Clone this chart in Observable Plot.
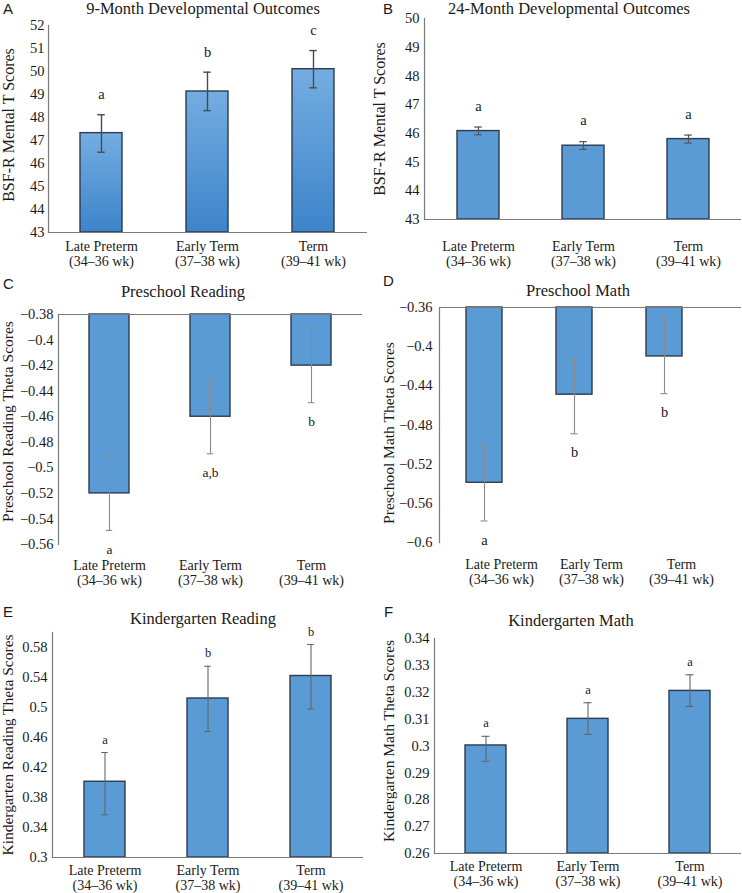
<!DOCTYPE html>
<html>
<head>
<meta charset="utf-8">
<script src="https://cdn.jsdelivr.net/npm/d3@7"></script>
<script src="https://cdn.jsdelivr.net/npm/@observablehq/plot@0.6"></script>
<style>
  body { margin: 0; background: #fff; }
  #root { position: relative; width: 742px; height: 893px; background: #fff; overflow: hidden; }
  #root svg { position: absolute; }
  .ttl { position: absolute; font-family: "Liberation Serif", serif; font-size: 16.5px; color: #1a1a1a; line-height: 1; white-space: nowrap; transform: translate(-50%, -50%); }
  .lt { position: absolute; font-family: "Liberation Sans", Arial, sans-serif; font-size: 15px; color: #1a1a1a; line-height: 1; }
</style>
</head>
<body>
<div id="root"></div>
<script>
// ---- data ----
const categories = ["Late Preterm", "Early Term", "Term"];
const weeks = ["(34–36 wk)", "(37–38 wk)", "(39–41 wk)"];

const month9Values = [47.32, 49.13, 50.10];
const month9Low = [46.49, 48.30, 49.29];
const month9High = [48.12, 49.97, 50.91];
const month9Letters = ["a", "b", "c"];
const month9Ticks = [43, 44, 45, 46, 47, 48, 49, 50, 51, 52];

const month24Values = [46.08, 45.57, 45.80];
const month24Low = [45.95, 45.44, 45.66];
const month24High = [46.22, 45.71, 45.94];
const month24Letters = ["a", "a", "a"];
const month24Ticks = [43, 44, 45, 46, 47, 48, 49, 50];

const preReadValues = [-0.520, -0.460, -0.420];
const preReadLow = [-0.549, -0.489, -0.449];
const preReadHigh = [-0.491, -0.431, -0.391];
const preReadLetters = ["a", "a,b", "b"];
const preReadTicks = [-0.38, -0.40, -0.42, -0.44, -0.46, -0.48, -0.50, -0.52, -0.54, -0.56];

const preMathValues = [-0.539, -0.449, -0.410];
const preMathLow = [-0.578, -0.489, -0.448];
const preMathHigh = [-0.501, -0.411, -0.371];
const preMathLetters = ["a", "b", "b"];
const preMathTicks = [-0.36, -0.40, -0.44, -0.48, -0.52, -0.56, -0.60];

const kReadValues = [0.401, 0.512, 0.542];
const kReadLow = [0.357, 0.468, 0.498];
const kReadHigh = [0.440, 0.555, 0.584];
const kReadLetters = ["a", "b", "b"];
const kReadTicks = [0.30, 0.34, 0.38, 0.42, 0.46, 0.50, 0.54, 0.58];

const kMathValues = [0.3002, 0.3101, 0.3205];
const kMathLow = [0.2943, 0.3043, 0.3147];
const kMathHigh = [0.3036, 0.3161, 0.3265];
const kMathLetters = ["a", "a", "a"];
const kMathTicks = [0.26, 0.27, 0.28, 0.29, 0.30, 0.31, 0.32, 0.33, 0.34];

// ---- helpers ----
const FONT = "Liberation Serif";
const root = document.getElementById("root");
const fmtDec = d => (d < 0 ? "\u2212" : "") + String(+Math.abs(d).toFixed(2));

function addText(cls, text, left, top) {
  const el = document.createElement("div");
  el.className = cls;
  el.textContent = text;
  el.style.left = left + "px";
  el.style.top = top + "px";
  root.appendChild(el);
}

function panel(cfg) {
  const W = 371;
  const hanging = cfg.base !== undefined;
  const base = hanging ? cfg.base : cfg.domain[0];
  const data = categories.map((c, i) => ({
    cat: c, v: cfg.values[i], lo: cfg.low[i], hi: cfg.high[i], letter: cfg.letters[i], base
  }));
  const xr = cfg.xRange || [cfg.mL, W - cfg.mR];
  const step = (xr[1] - xr[0]) / 3;
  const bw = step * 0.4;
  const capInset = (bw - cfg.cap) / 2;
  const marks = [];
  if (cfg.gradient) {
    marks.push(() => {
      const defs = d3.create("svg:defs");
      const g = defs.append("linearGradient").attr("id", "gradA")
        .attr("x1", 0).attr("y1", 0).attr("x2", 0).attr("y2", 1);
      g.append("stop").attr("offset", "0%").attr("stop-color", "#74ade1");
      g.append("stop").attr("offset", "100%").attr("stop-color", "#3d84ca");
      return defs.node();
    });
  }
  marks.push(
    Plot.barY(data, {x: "cat", y1: "base", y2: "v", fill: cfg.gradient ? "url(#gradA)" : "#5b9bd5", stroke: "#2c3b4e", strokeWidth: 1.4}),
    Plot.ruleX(data, {x: "cat", y1: "lo", y2: "hi", stroke: cfg.errColor, strokeWidth: cfg.errWidth}),
    Plot.tickY(data, {x: "cat", y: "lo", insetLeft: capInset, insetRight: capInset, stroke: cfg.errColor, strokeWidth: cfg.errWidth}),
    Plot.tickY(data, {x: "cat", y: "hi", insetLeft: capInset, insetRight: capInset, stroke: cfg.errColor, strokeWidth: cfg.errWidth}),
    Plot.text(data, {x: "cat", y: hanging ? "lo" : "hi", dy: hanging ? cfg.letterOff : -cfg.letterOff, text: "letter", fontSize: cfg.letterSize, fontFamily: FONT, fill: "#1a1a1a"}),
    Plot.ruleY([base], {stroke: "#7a7a7a", strokeWidth: 1.2}),
    Plot.frame({anchor: "left", stroke: "#7a7a7a", strokeWidth: 1.2}),
    Plot.axisY({ticks: cfg.ticks, tickFormat: cfg.tickFormat, tickSize: 0, tickPadding: cfg.yPad, fontSize: 14.5, fontFamily: FONT, label: null}),
    Plot.axisX({tickSize: 0, tickPadding: cfg.xPad, fontSize: 14, fontFamily: FONT, lineHeight: 1.08, label: null, dx: cfg.xDx || 0,
      tickFormat: d => d + "\n" + weeks[categories.indexOf(d)]}),
    Plot.text([cfg.yLabel], {frameAnchor: "left", textAnchor: "middle", lineAnchor: "middle", rotate: -90, dx: cfg.yLabelDx, dy: cfg.yLabelDy || 0, fontSize: cfg.yLabelSize, fontFamily: FONT, fill: "#1a1a1a"})
  );
  const svg = Plot.plot({
    width: W,
    height: cfg.height,
    marginLeft: cfg.mL,
    marginRight: cfg.mR,
    marginTop: cfg.mT,
    marginBottom: cfg.mB,
    x: {type: "band", domain: categories, range: cfg.xRange, paddingInner: 0.6, paddingOuter: 0.3},
    y: {domain: cfg.domain},
    style: {fontFamily: "'Liberation Serif', serif", color: "#1a1a1a", background: "transparent", overflow: "visible"},
    marks
  });
  svg.style.left = cfg.left + "px";
  svg.style.top = cfg.top + "px";
  root.appendChild(svg);
  addText("ttl", cfg.title, cfg.titleX, cfg.titleY);
  addText("lt", cfg.tag, cfg.tagX, cfg.tagY);
}

// A
panel({
  left: 0, top: 0, height: 275, mL: 48, mR: 4, mT: 25, mB: 43,
  domain: [43, 52], ticks: month9Ticks, tickFormat: d => String(d),
  values: month9Values, low: month9Low, high: month9High, letters: month9Letters,
  gradient: true, errColor: "#4a4a4a", errWidth: 1.4, cap: 8,
  letterOff: 20, letterSize: 14.5, yPad: 4, xPad: 8,
  yLabel: "BSF-R Mental T Scores", yLabelDx: -40, yLabelDy: -4, yLabelSize: 16,
  title: "9-Month Developmental Outcomes", titleX: 203, titleY: 9, tag: "A", tagX: 3, tagY: 1
});
// B
panel({
  left: 371, top: 0, height: 275, mL: 53, mR: 1, mT: 18, mB: 56,
  domain: [43, 50], ticks: month24Ticks, tickFormat: d => String(d),
  values: month24Values, low: month24Low, high: month24High, letters: month24Letters,
  errColor: "#555", errWidth: 1.2, cap: 8,
  letterOff: 21, letterSize: 14.5, yPad: 5, xPad: 21,
  yLabel: "BSF-R Mental T Scores", yLabelDx: -45, yLabelDy: 0, yLabelSize: 16,
  title: "24-Month Developmental Outcomes", titleX: 569, titleY: 9, tag: "B", tagX: 383, tagY: 1
});
// C
panel({
  left: 0, top: 290, height: 300, mL: 58, mR: 9, mT: 24, mB: 46,
  domain: [-0.56, -0.38], base: -0.38, ticks: preReadTicks, tickFormat: fmtDec,
  values: preReadValues, low: preReadLow, high: preReadHigh, letters: preReadLetters,
  errColor: "#8a8a8a", errWidth: 1.1, cap: 7,
  letterOff: 19, letterSize: 13.5, yPad: 5, xPad: 15,
  yLabel: "Preschool Reading Theta Scores", yLabelDx: -50, yLabelDy: -8, yLabelSize: 15.5,
  title: "Preschool Reading", titleX: 183, titleY: 292, tag: "C", tagX: 3, tagY: 276
});
// D
panel({
  left: 371, top: 290, height: 300, mL: 68, mR: 1, mT: 17, mB: 48,
  xRange: [68, 338],
  domain: [-0.6, -0.36], base: -0.36, ticks: preMathTicks, tickFormat: fmtDec,
  values: preMathValues, low: preMathLow, high: preMathHigh, letters: preMathLetters,
  errColor: "#8a8a8a", errWidth: 1.1, cap: 7,
  letterOff: 19, letterSize: 14.5, yPad: 7, xPad: 16, xDx: 17,
  yLabel: "Preschool Math Theta Scores", yLabelDx: -50, yLabelDy: 8, yLabelSize: 15.5,
  title: "Preschool Math", titleX: 578, titleY: 291, tag: "D", tagX: 383, tagY: 273
});
// E
panel({
  left: 0, top: 595, height: 298, mL: 52, mR: 8, mT: 37, mB: 36,
  domain: [0.3, 0.6], ticks: kReadTicks, tickFormat: fmtDec,
  values: kReadValues, low: kReadLow, high: kReadHigh, letters: kReadLetters,
  errColor: "#666", errWidth: 1.1, cap: 7,
  letterOff: 13, letterSize: 12.5, yPad: 5, xPad: 7,
  yLabel: "Kindergarten Reading Theta Scores", yLabelDx: -44, yLabelDy: 0, yLabelSize: 15.5,
  title: "Kindergarten Reading", titleX: 203, titleY: 619, tag: "E", tagX: 3, tagY: 604
});
// F
panel({
  left: 371, top: 595, height: 298, mL: 63, mR: 1, mT: 43, mB: 40,
  domain: [0.26, 0.34], ticks: kMathTicks, tickFormat: fmtDec,
  values: kMathValues, low: kMathLow, high: kMathHigh, letters: kMathLetters,
  errColor: "#666", errWidth: 1.1, cap: 8,
  letterOff: 13, letterSize: 12.5, yPad: 5, xPad: 7,
  yLabel: "Kindergarten Math Theta Scores", yLabelDx: -45, yLabelDy: -5, yLabelSize: 15.5,
  title: "Kindergarten Math", titleX: 571, titleY: 621, tag: "F", tagX: 384, tagY: 604
});
</script>
</body>
</html>
